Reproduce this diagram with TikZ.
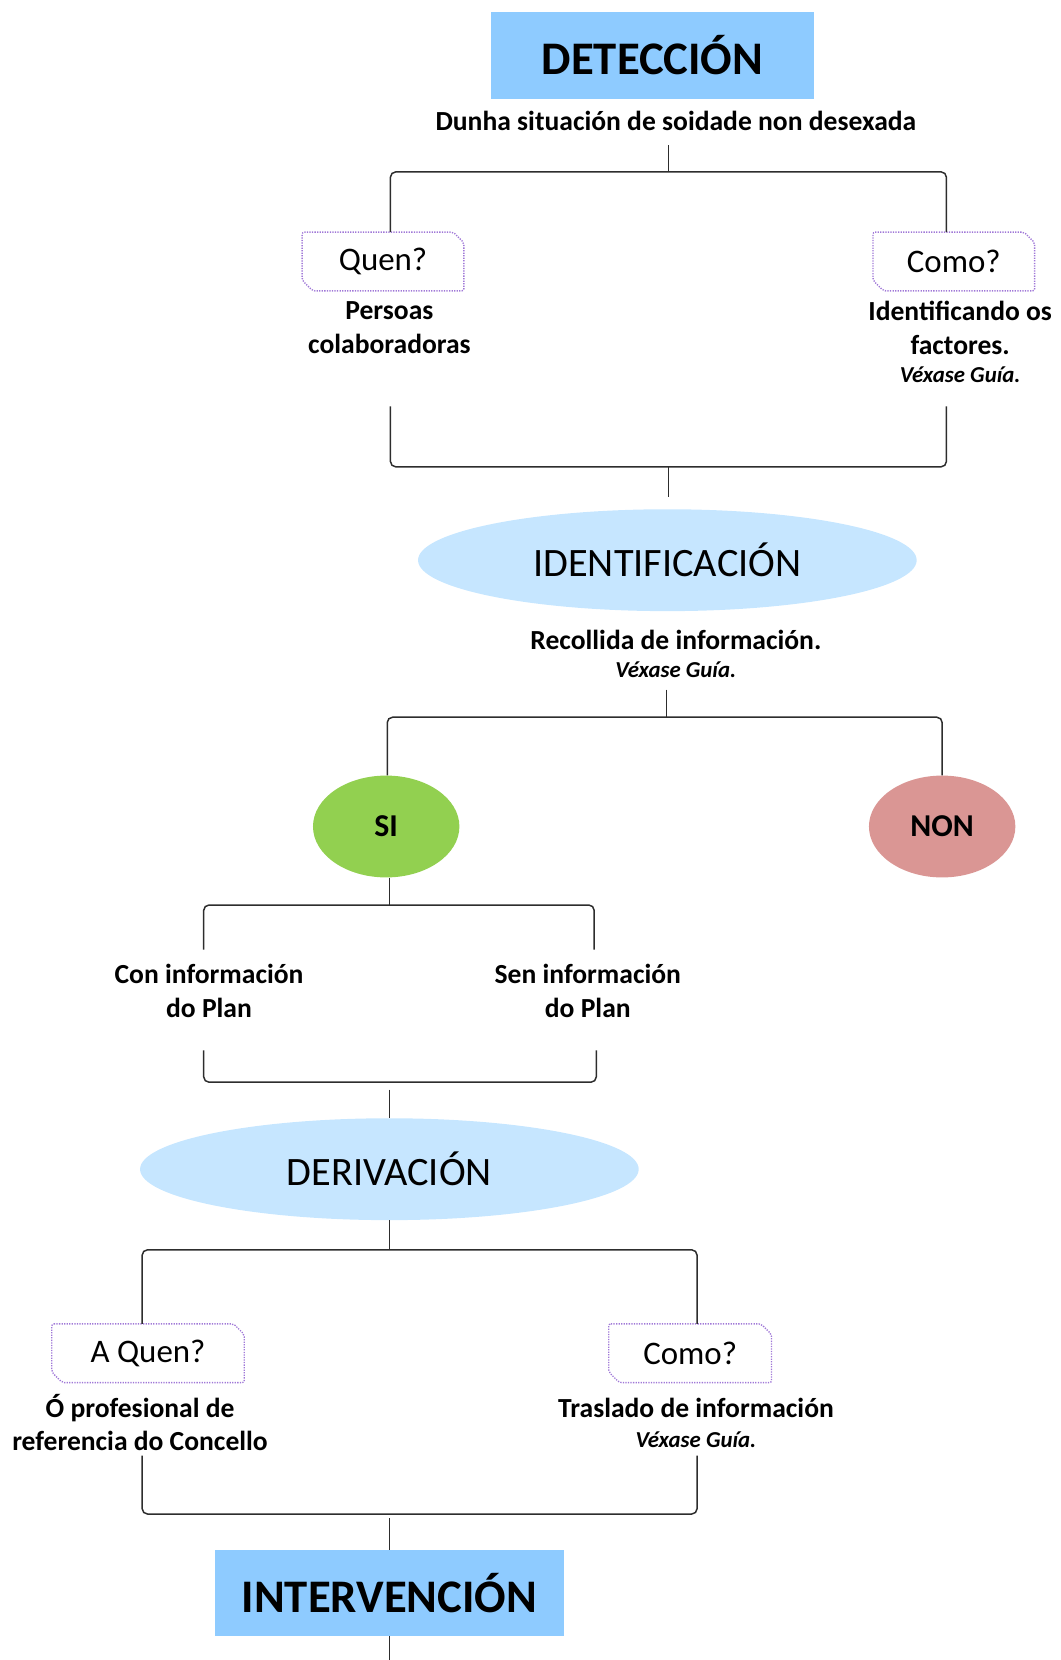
\documentclass[tikz,border=0pt]{standalone}
\usepackage{fontspec}
\setmainfont{Carlito}
\usetikzlibrary{shapes.geometric}
\definecolor{boxblue}{RGB}{142,203,255}
\definecolor{ellblue}{RGB}{198,230,255}
\definecolor{sigreen}{RGB}{146,208,80}
\definecolor{nonred}{RGB}{218,150,148}
\definecolor{snipcol}{RGB}{160,120,215}
\definecolor{linecol}{RGB}{45,45,45}
\newcommand\snipframe[1]{\draw[snip] (#1.north west) -- ([xshift=-10pt]#1.north east) -- ([yshift=-10pt]#1.north east) -- (#1.south east) -- ([xshift=10pt]#1.south west) -- ([yshift=10pt]#1.south west) -- cycle;}
\begin{document}
\begin{tikzpicture}[x=1pt,y=-1pt,
  conn/.style={draw=linecol, line width=1.4pt, rounded corners=5pt},
  titlebox/.style={rectangle, fill=boxblue, inner sep=0pt, font=\fontsize{44}{52}\selectfont\bfseries},
  ell/.style={ellipse, fill=ellblue, inner sep=0pt, minimum width=470pt, minimum height=96pt, font=\fontsize{38}{45}\selectfont},
  circ/.style={ellipse, inner sep=0pt, minimum width=138pt, minimum height=96pt, font=\fontsize{30}{36}\selectfont\bfseries},
  qbox/.style={rectangle, inner sep=0pt, minimum height=55pt, font=\fontsize{31}{37}\selectfont},
  snip/.style={draw=snipcol, line width=1.3pt, dash pattern=on 1.2pt off 1.2pt, rounded corners=2pt},
  txt/.style={align=center, inner sep=0pt, font=\fontsize{26}{31.5}\selectfont\bfseries},
  gui/.style={align=center, inner sep=0pt, font=\fontsize{21.5}{25}\selectfont\bfseries\itshape}]
\useasboundingbox (0,0) rectangle (1000,1564.6);

% DETECCION
\node[titlebox, minimum width=304pt, minimum height=82pt] (det) at (615,52) {DETECCIÓN};
\node[txt] (detsub) at (637,114) {Dunha situación de soidade non desexada};
\coordinate (t0) at (630,137);
\coordinate (j1) at (630,162);
\draw[conn] (t0) -- (j1);

\node[qbox, minimum width=152pt] (quen) at (361,246.5) {Quen?};
\node[qbox, minimum width=152pt] (como) at (899,246.5) {Como?};
\snipframe{quen}
\snipframe{como}
\draw[conn] ([xshift=7pt]quen.north) |- (j1) -| ([xshift=-7pt]como.north);

\node[txt] (pers) at (367,309) {Persoas\\colaboradoras};
\node[txt] (ident1) at (905,309) {Identificando os\\factores.};
\node[gui] (vg1) at (905,353) {Véxase Guía.};

\coordinate (q1) at (368,383);
\coordinate (c1) at (892,383);
\coordinate (j2) at (630,440);
\draw[conn] (q1) |- (j2) -| (c1);
\coordinate (j2b) at (630,468);
\draw[conn] (j2) -- (j2b);

% IDENTIFICACION
\node[ell] (ident) at (629,528) {IDENTIFICACIÓN};
\node[txt] (rec) at (637,603) {Recollida de información.};
\node[gui] (vg2) at (637,631) {Véxase Guía.};
\coordinate (t3) at (628,650);
\coordinate (j3) at (628,676);
\draw[conn] (t3) -- (j3);

\node[circ, fill=sigreen] (si) at (364,779) {SI};
\node[circ, fill=nonred] (non) at (888,779) {NON};
\draw[conn] ([xshift=1pt]si.north) |- (j3) -| (non.north);

\coordinate (j4) at (367,853);
\draw[conn] ([xshift=3pt]si.south) -- (j4);
\coordinate (a1) at (192,895);
\coordinate (b1) at (560,895);
\draw[conn] (a1) |- (j4) -| (b1);

\node[txt] (con) at (197,934) {Con información\\do Plan};
\node[txt] (sen) at (554,934) {Sen información\\do Plan};

\coordinate (a2) at (192,990);
\coordinate (b2) at (562,990);
\coordinate (j5) at (367,1020);
\draw[conn] (a2) |- (j5) -| (b2);

% DERIVACION
\node[ell] (deriv) at (367,1102) {DERIVACIÓN};
\coordinate (j5b) at (367,1027);
\draw[conn] (j5b) -- (deriv.north);
\coordinate (j6) at (367,1178);
\draw[conn] (deriv.south) -- (j6);

\node[qbox, minimum width=181pt] (aquen) at (139.5,1275.5) {A Quen?};
\node[qbox, minimum width=153pt] (como2) at (650.5,1275.5) {Como?};
\snipframe{aquen}
\snipframe{como2}
\draw[conn] ([xshift=-5.5pt]aquen.north) |- (j6) -| ([xshift=6.5pt]como2.north);

\node[txt] (prof) at (132,1341) {Ó profesional de\\referencia do Concello};
\node[txt] (tras) at (656,1327) {Traslado de información};
\node[gui] (vg3) at (656,1357) {Véxase Guía.};

\coordinate (a3) at (134,1372);
\coordinate (b3) at (657,1372);
\coordinate (j7) at (367,1427);
\draw[conn] (a3) |- (j7) -| (b3);

% INTERVENCION
\node[titlebox, minimum width=329pt, minimum height=81pt] (interv) at (367,1501.5) {INTERVENCIÓN};
\coordinate (j7b) at (367,1431);
\draw[conn] (j7b) -- (interv.north);
\coordinate (endc) at (367,1564.6);
\draw[conn] (interv.south) -- (endc);
\end{tikzpicture}
\end{document}
